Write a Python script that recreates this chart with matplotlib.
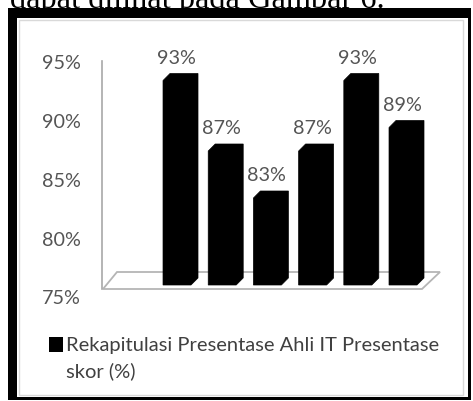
import matplotlib.pyplot as plt
from matplotlib.patches import Rectangle, Polygon
from matplotlib.lines import Line2D
from matplotlib.transforms import ScaledTranslation

# data
scores = [93, 87, 83, 87, 93, 89]
value_labels = ["93%", "87%", "83%", "87%", "93%", "89%"]
y_ticks = [75, 80, 85, 90, 95]
y_tick_labels = ["75%", "80%", "85%", "90%", "95%"]
legend_label = "Rekapitulasi Presentase Ahli IT Presentase\nskor (%)"
caption = "dapat dilihat pada Gambar 6."

W, H = 473, 402
FONT = "Lato"
GREY_TEXT = "#555555"


def fx(px):
    return px / W


def fy(py):
    return 1 - py / H


fig = plt.figure(figsize=(W / 100, H / 100), dpi=100)

# caption line of the page, partly hidden by the frame
fig.text(fx(10), fy(8), caption, family="Liberation Serif", fontsize=23.3,
         ha="left", va="baseline", color="black", zorder=1)

# black picture frame (thick left/top, thin right/bottom) and chart area
fig.patches.append(Rectangle((fx(8), fy(401)), fx(471) - fx(8), fy(9) - fy(401),
                             transform=fig.transFigure, facecolor="black",
                             edgecolor="none", zorder=2))
fig.patches.append(Rectangle((fx(17), fy(398)), fx(468) - fx(17), fy(19) - fy(398),
                             transform=fig.transFigure, facecolor="white",
                             edgecolor="none", zorder=3))
fig.patches.append(Rectangle((fx(18.5), fy(396)), fx(463) - fx(18.5), fy(20.5) - fy(396),
                             transform=fig.transFigure, facecolor="none",
                             edgecolor="#d9d9d9", lw=1, zorder=4))

# plot area
ax_l, ax_r, ax_t, ax_b = 102, 440, 51, 286
ax = fig.add_axes([fx(ax_l), fy(ax_b), fx(ax_r) - fx(ax_l), (ax_b - ax_t) / H], zorder=10)
ax.patch.set_visible(False)
for s in ax.spines.values():
    s.set_visible(False)

x_pos = list(range(len(scores)))
ax.set_xlim(-1.737, 5.741)
ax.set_ylim(75, 95)
ax.set_xticks([])
ax.set_yticks(y_ticks)
ax.set_yticklabels(y_tick_labels, family=FONT, fontsize=14.2, color=GREY_TEXT)
ax.tick_params(axis="y", length=0, pad=15)
shift = ScaledTranslation(0, -11.5 / 100, fig.dpi_scale_trans)
for lab in ax.get_yticklabels():
    lab.set_transform(lab.get_transform() + shift)


def axpt(px, py):
    return ((px - ax_l) / (ax_r - ax_l), (ax_b - py) / (ax_b - ax_t))


# floor of the 3D chart and the vertical axis line
floor = Polygon([axpt(103, 290), axpt(422, 290), axpt(440, 273), axpt(117, 273)],
                closed=True, transform=ax.transAxes, facecolor="white",
                edgecolor="#b5b5b5", lw=1.3, clip_on=False, zorder=1)
ax.add_patch(floor)
ax.add_line(Line2D(*zip(axpt(101.5, 62), axpt(101.5, 290)), transform=ax.transAxes,
                   color="#a8a8a8", lw=1.2, clip_on=False, zorder=1))

# bars drawn as boxes: front face plus depth offset gives cut corners
half_w = 0.387
dx, dy = 0.155, 0.6
base = 75
for x, v in zip(x_pos, scores):
    pts = [(x - half_w, base), (x + half_w - dx, base), (x + half_w, base + dy),
           (x + half_w, v), (x - half_w + dx, v), (x - half_w, v - dy)]
    ax.add_patch(Polygon(pts, closed=True, facecolor="black", edgecolor="black",
                         lw=0.5, clip_on=False, zorder=3))

for x, v, txt in zip(x_pos, scores, value_labels):
    ax.annotate(txt, (x, v), xytext=(-4, 16), textcoords="offset pixels",
                ha="center", va="center", family=FONT, fontsize=14.2,
                color=GREY_TEXT, annotation_clip=False)

# legend
fig.patches.append(Rectangle((fx(48.5), fy(353)), fx(63) - fx(48.5), fy(338) - fy(353),
                             transform=fig.transFigure, facecolor="black",
                             edgecolor="none", zorder=5))
fig.text(fx(66), fy(337), legend_label, family=FONT, fontsize=14.5, color="#404040",
         ha="left", va="top", linespacing=1.55, zorder=5)

fig.savefig("out.png", dpi=100)
